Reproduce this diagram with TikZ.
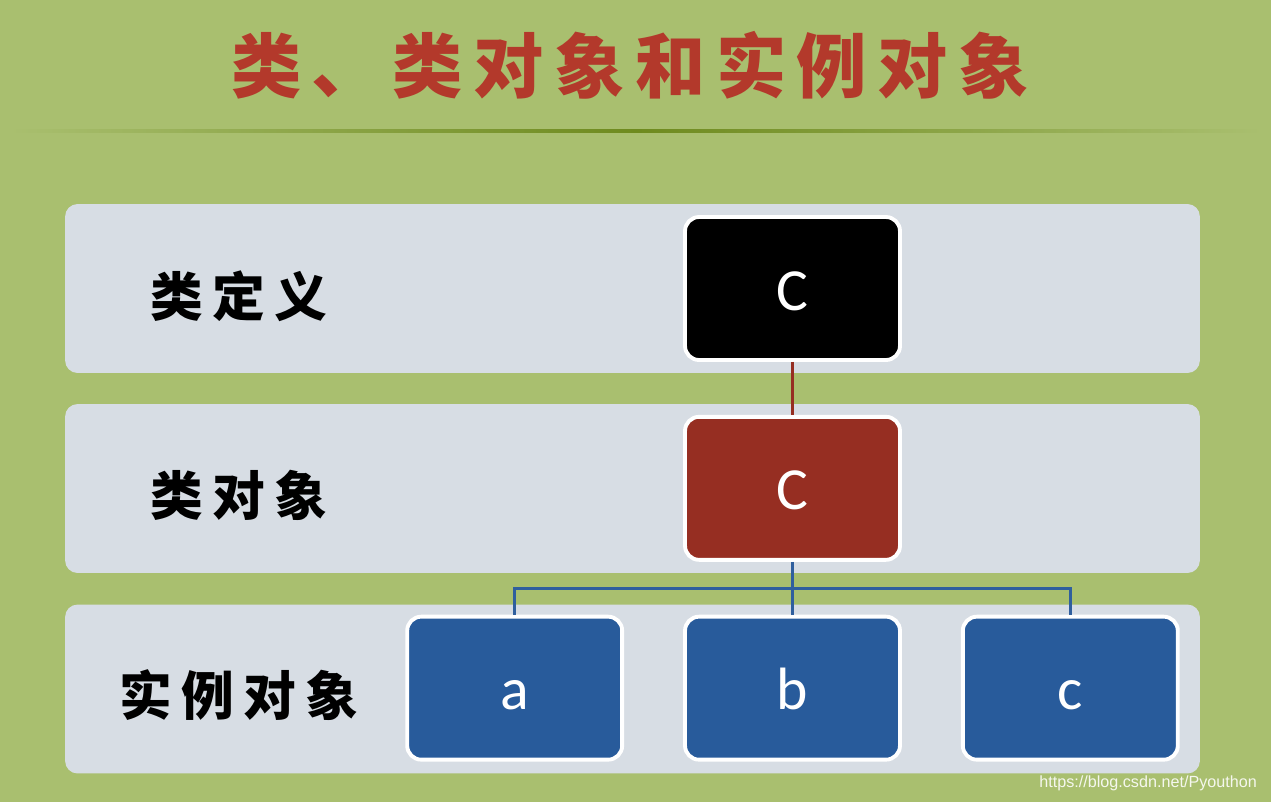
\documentclass[tikz,border=0pt]{standalone}
\usepackage{fontspec}
\usetikzlibrary{calc,positioning}
\newfontfamily\cjk{Noto Sans CJK SC}
\newfontfamily\cjkwide[LetterSpace=18]{Noto Sans CJK SC}
\newfontfamily\latf{Carlito}
\newfontfamily\wmark{Liberation Sans}
\definecolor{bggreen}{HTML}{A9BF6F}
\definecolor{linegreen}{HTML}{6E8A1E}
\definecolor{rowgray}{HTML}{D7DDE4}
\definecolor{titlered}{HTML}{B3392B}
\definecolor{boxred}{HTML}{962E22}
\definecolor{boxblue}{HTML}{285B9B}
\definecolor{treeblue}{HTML}{2F5F9E}
\tikzset{
    row/.style = {rectangle, rounded corners=0.25cm, fill=rowgray,
        minimum width=22.7cm, minimum height=3.38cm},
    rowlabel/.style = {font=\cjkwide\bfseries\fontsize{30}{30}\selectfont, text=black},
    objbox/.style = {rectangle, rounded corners=0.28cm, draw=white, line width=2.2pt,
        minimum width=4.3cm, minimum height=2.86cm, text=white,
        text height=0.86cm, text depth=0pt,
        font=\latf\fontsize{34}{34}\selectfont},
    tree/.style = {line width=1.8pt},
}
\begin{document}
\begin{tikzpicture}[x=0.02cm, y=-0.02cm]

	% background
	\fill[bggreen] (0,0) rectangle (1271,802);
	\useasboundingbox (0,0) rectangle (1271,802);
	\shade[left color=bggreen, right color=bggreen, middle color=linegreen] (10,129) rectangle (1262,132);

	% title
	\node (title) at (630,65) {\cjk\bfseries\fontsize{40}{40}\selectfont\addfontfeature{LetterSpace=15}\color{titlered}类、类对象和实例对象};

	% rows
	\node (rowDef) [row] at (632.5,288.5) {};
	\node (rowCls) [row] at (632.5,488.5) {};
	\node (rowInst) [row] at (632.5,689) {};

	\node (defLabel) [rowlabel] at (239,296) {类定义};
	\node (clsLabel) [rowlabel] at (239,495) {类对象};
	\node (instLabel) [rowlabel] at (239,695) {实例对象};

	% boxes
	\node (classDef) [objbox, fill=black] at (792.5,288.5) {C};
	\node (classObj) [objbox, fill=boxred, below=1.06cm of classDef] {C};
	\node (objB) [objbox, fill=boxblue, below=1.06cm of classObj] {b};
	\node (objA) [objbox, fill=boxblue, left=1.18cm of objB] {a};
	\node (objC) [objbox, fill=boxblue, right=1.18cm of objB] {c};

	% edges
	\draw[tree, boxred] (classDef) -- (classObj);
	\coordinate (split) at ($(classObj.south)!0.5!(objB.north)$);
	\draw[tree, treeblue] (classObj) -- (objB);
	\draw[tree, treeblue] (objA.north) |- (split) -| (objC.north);

	% watermark
	\node (mark) [anchor=east, text=white!88!bggreen, font=\wmark\fontsize{9.2}{10}\selectfont] at (1263,783) {https://blog.csdn.net/Pyouthon};

\end{tikzpicture}
\end{document}
